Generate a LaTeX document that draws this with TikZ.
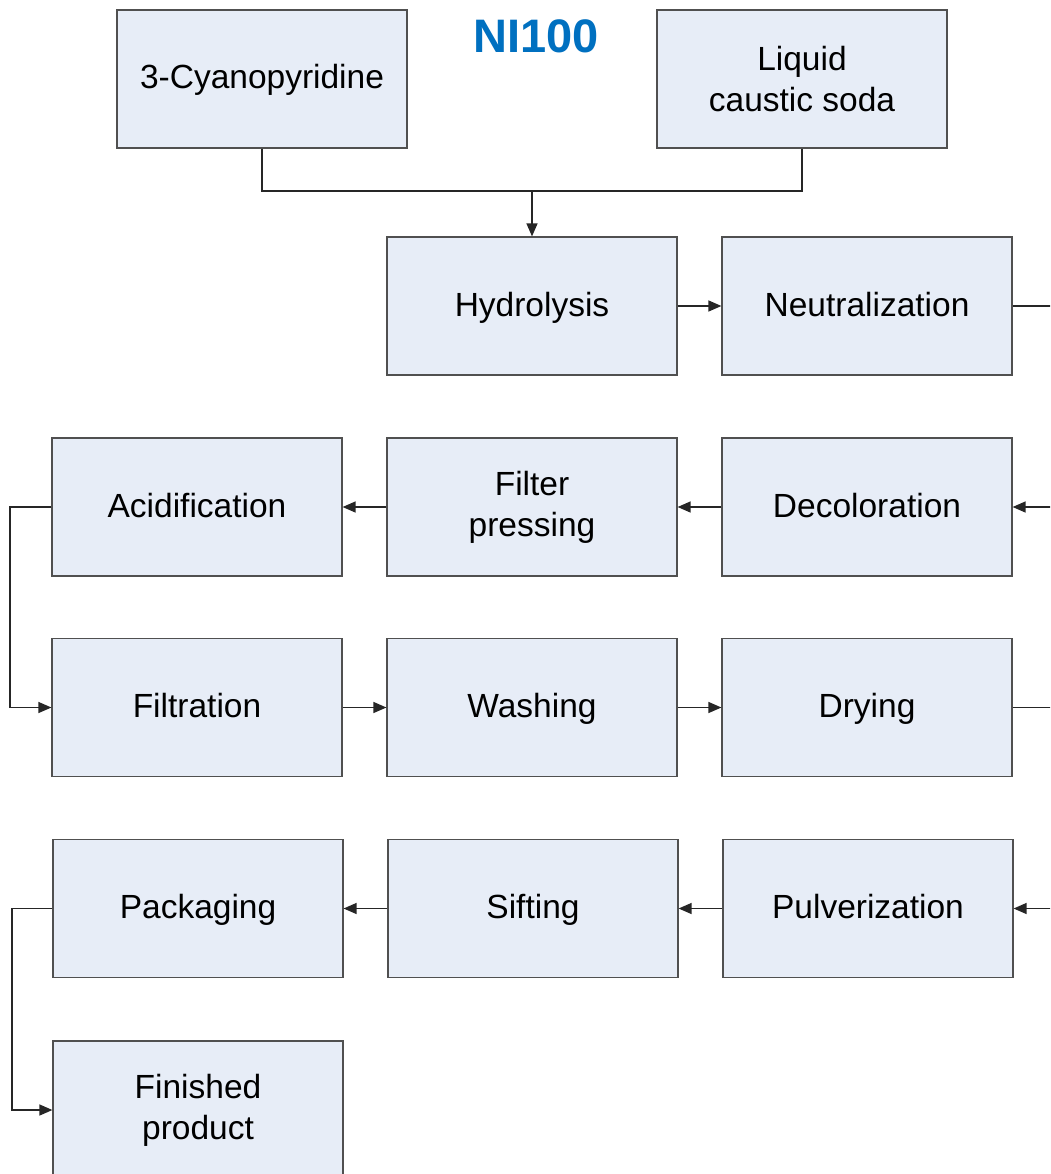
\documentclass[tikz,border=0pt]{standalone}
\usepackage{fontspec}
\setmainfont{Liberation Sans}
\usetikzlibrary{arrows.meta}
\definecolor{boxfill}{HTML}{E7EDF7}
\definecolor{boxline}{HTML}{505050}
\definecolor{titleblue}{HTML}{0070C0}
\tikzset{
  pbox/.style={draw=boxline, line width=1.2pt, fill=boxfill, rectangle,
    minimum width=290pt, minimum height=138pt, inner sep=0pt, align=center,
    font=\fontsize{33.5}{41}\selectfont},
  sbox/.style={pbox, text height=27pt, text depth=7pt},
  conn/.style={draw=black!85, line width=1.3pt},
  arr/.style={conn, -{Triangle[length=13pt,width=11pt]}}
}
\begin{document}
\begin{tikzpicture}[x=1pt,y=-1pt]
\useasboundingbox (0,0) rectangle (1050,1174);
\clip (0,0) rectangle (1050,1174);
\fill[white] (0,0) rectangle (1050,1174);
% title
\node[text=titleblue, font=\bfseries\fontsize{47}{50}\selectfont] (title) at (536,36) {NI100};
% row 0
\node[sbox] (cyan) at (262,79) {3-Cyanopyridine};
\node[pbox] (soda) at (802,79) {Liquid\\caustic soda};
% row 1
\node[sbox] (hyd) at (532,306) {Hydrolysis};
\node[sbox] (neu) at (867,306) {Neutralization};
% row 2
\node[sbox] (acid) at (197,507) {Acidification};
\node[pbox] (fpress) at (532,507) {Filter\\pressing};
\node[sbox] (deco) at (867,507) {Decoloration};
% row 3
\node[sbox] (filt) at (197,707.5) {Filtration};
\node[sbox] (wash) at (532,707.5) {Washing};
\node[sbox] (dry) at (867,707.5) {Drying};
% row 4
\node[sbox] (pack) at (198,908.5) {Packaging};
\node[sbox] (sift) at (533,908.5) {Sifting};
\node[sbox] (pulv) at (868,908.5) {Pulverization};
% row 5
\node[pbox] (fin) at (198,1110) {Finished\\product};
% coordinates
\coordinate (j) at (532,191);
\coordinate (r1) at (1070,306);
\coordinate (r2) at (1070,707.5);
\coordinate (l1) at (10,507);
\coordinate (l2) at (12,908.5);
% connectors
\draw[conn] (cyan.south) |- (j) -| (soda.south);
\draw[arr] (j) -- (hyd.north);
\draw[arr] (hyd.east) -- (neu.west);
\draw[arr] (neu.east) -- (r1) |- (deco.east);
\draw[arr] (deco.west) -- (fpress.east);
\draw[arr] (fpress.west) -- (acid.east);
\draw[arr] (acid.west) -- (l1) |- (filt.west);
\draw[arr] (filt.east) -- (wash.west);
\draw[arr] (wash.east) -- (dry.west);
\draw[arr] (dry.east) -- (r2) |- (pulv.east);
\draw[arr] (pulv.west) -- (sift.east);
\draw[arr] (sift.west) -- (pack.east);
\draw[arr] (pack.west) -- (l2) |- (fin.west);
\end{tikzpicture}
\end{document}
